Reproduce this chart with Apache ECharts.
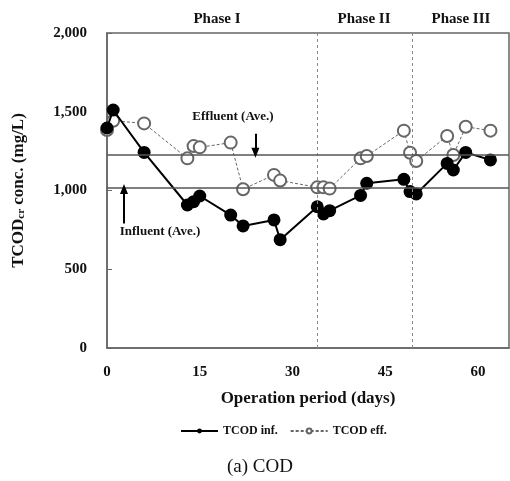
<!DOCTYPE html>
<html>
<head>
<meta charset="utf-8">
<script src="https://cdn.jsdelivr.net/npm/echarts@6/dist/echarts.min.js"></script>
<style>
  html, body { margin: 0; padding: 0; background: #fff; }
  #chart { width: 510px; height: 481px; }
</style>
</head>
<body>
<div id="chart"></div>
<script>
// 运行天数
var days = [0, 1, 6, 13, 14, 15, 20, 22, 27, 28, 34, 35, 36, 41, 42, 48, 49, 50, 55, 56, 58, 62];
// 进水 / 出水 TCOD (mg/L)
var codInf = [1397, 1511, 1242, 908, 929, 965, 844, 775, 813, 688, 897, 851, 872, 969, 1046, 1071, 993, 978, 1172, 1130, 1242, 1194];
var codEff = [1384, 1443, 1426, 1204, 1282, 1274, 1304, 1008, 1099, 1063, 1020, 1020, 1012, 1204, 1219, 1380, 1240, 1187, 1346, 1225, 1405, 1380];
// 平均值
var effAve = 1230, infAve = 1020;
// 阶段分界
var phaseBreaks = [34, 49.3];
var phaseNames = ['Phase I', 'Phase II', 'Phase III'];

var serif = '"Liberation Serif", "DejaVu Serif", serif';

function pairs(xs, ys) {
  var out = [];
  for (var i = 0; i < xs.length; i++) out.push([xs[i], ys[i]]);
  return out;
}

var myChart = echarts.init(document.getElementById('chart'));
var option = {
  animation: false,
  textStyle: { fontFamily: serif },
  grid: { left: 107, right: 1, top: 33, bottom: 133, outerBoundsMode: 'none', containLabel: false,
          show: true, borderColor: '#666', borderWidth: 1.5 },
  legend: {
    left: 175, top: 420,
    itemWidth: 37, itemHeight: 6, itemGap: 12,
    textStyle: { fontFamily: serif, fontWeight: 'bold', fontSize: 12, color: '#111' },
    data: ['TCOD inf.', 'TCOD eff.']
  },
  xAxis: {
    type: 'value', min: 0, max: 65, interval: 15,
    axisLine: { show: true, lineStyle: { color: '#666', width: 1.5 } },
    axisTick: { show: false },
    splitLine: { show: false },
    axisLabel: { margin: 17, fontFamily: serif, fontWeight: 'bold', fontSize: 15, color: '#111', showMaxLabel: false },
    name: 'Operation period (days)', nameLocation: 'middle', nameGap: 42,
    nameTextStyle: { fontFamily: serif, fontWeight: 'bold', fontSize: 17, color: '#111' }
  },
  yAxis: {
    type: 'value', min: 0, max: 2000, interval: 500,
    axisLine: { show: true, lineStyle: { color: '#666', width: 1.5 } },
    axisTick: { show: true, inside: true, length: 5, lineStyle: { color: '#666' } },
    splitLine: { show: false },
    axisLabel: {
      margin: 20, fontFamily: serif, fontWeight: 'bold', fontSize: 15, color: '#111',
      formatter: function (v) { return v.toLocaleString('en-US'); }
    },
    name: '{m|TCOD}{s|cr}{m| conc. (mg/L)}', nameLocation: 'middle', nameGap: 80,
    nameTextStyle: {
      rich: {
        m: { fontFamily: serif, fontWeight: 'bold', fontSize: 17, color: '#111' },
        s: { fontFamily: serif, fontWeight: 'bold', fontSize: 11, color: '#111', verticalAlign: 'bottom', padding: [6, 0, 0, 0] }
      }
    }
  },
  series: [
    {
      name: 'TCOD eff.', type: 'line', z: 2,
      data: pairs(days, codEff),
      symbol: 'emptyCircle', symbolSize: 12,
      itemStyle: { color: '#666', borderColor: '#666', borderWidth: 1.3 },
      lineStyle: { color: '#666', width: 1, type: [3, 2] },
      markLine: {
        silent: true, symbol: 'none', label: { show: false },
        lineStyle: { color: '#888', width: 1, type: [3, 3] },
        data: phaseBreaks.map(function (d) { return { xAxis: d }; })
      }
    },
    {
      name: 'TCOD inf.', type: 'line', z: 3,
      data: pairs(days, codInf),
      symbol: 'circle', symbolSize: 13,
      itemStyle: { color: '#000' },
      lineStyle: { color: '#000', width: 2 },
      markLine: {
        silent: true, label: { show: false },
        data: [
          [{ coord: [0, effAve], symbol: 'none' }, { coord: [65, effAve], symbol: 'none', lineStyle: { color: '#555', width: 1.6, type: 'solid' } }],
          [{ coord: [0, infAve], symbol: 'none' }, { coord: [65, infAve], symbol: 'none', lineStyle: { color: '#555', width: 1.6, type: 'solid' } }],
          [{ coord: [24, 1360], symbol: 'none' }, { coord: [24, 1240], symbol: 'triangle', symbolSize: [8, 10], lineStyle: { color: '#000', width: 2, type: 'solid' } }],
          [{ coord: [2.75, 790], symbol: 'none' }, { coord: [2.75, 1010], symbol: 'triangle', symbolSize: [8, 10], lineStyle: { color: '#000', width: 2, type: 'solid' } }]
        ]
      }
    }
  ],
  graphic: [
    { type: 'text', x: 217, y: 19, style: { text: phaseNames[0], font: 'bold 15px ' + serif, fill: '#111', align: 'center', verticalAlign: 'middle' } },
    { type: 'text', x: 364, y: 19, style: { text: phaseNames[1], font: 'bold 15px ' + serif, fill: '#111', align: 'center', verticalAlign: 'middle' } },
    { type: 'text', x: 461, y: 19, style: { text: phaseNames[2], font: 'bold 15px ' + serif, fill: '#111', align: 'center', verticalAlign: 'middle' } },
    { type: 'text', x: 233, y: 117, style: { text: 'Effluent (Ave.)', font: 'bold 13px ' + serif, fill: '#111', align: 'center', verticalAlign: 'middle' } },
    { type: 'text', x: 160, y: 232, style: { text: 'Influent (Ave.)', font: 'bold 13px ' + serif, fill: '#111', align: 'center', verticalAlign: 'middle' } },
    { type: 'text', x: 260, y: 467, style: { text: '(a) COD', font: '19px ' + serif, fill: '#111', align: 'center', verticalAlign: 'middle' } }
  ]
};
myChart.setOption(option);
</script>
</body>
</html>
